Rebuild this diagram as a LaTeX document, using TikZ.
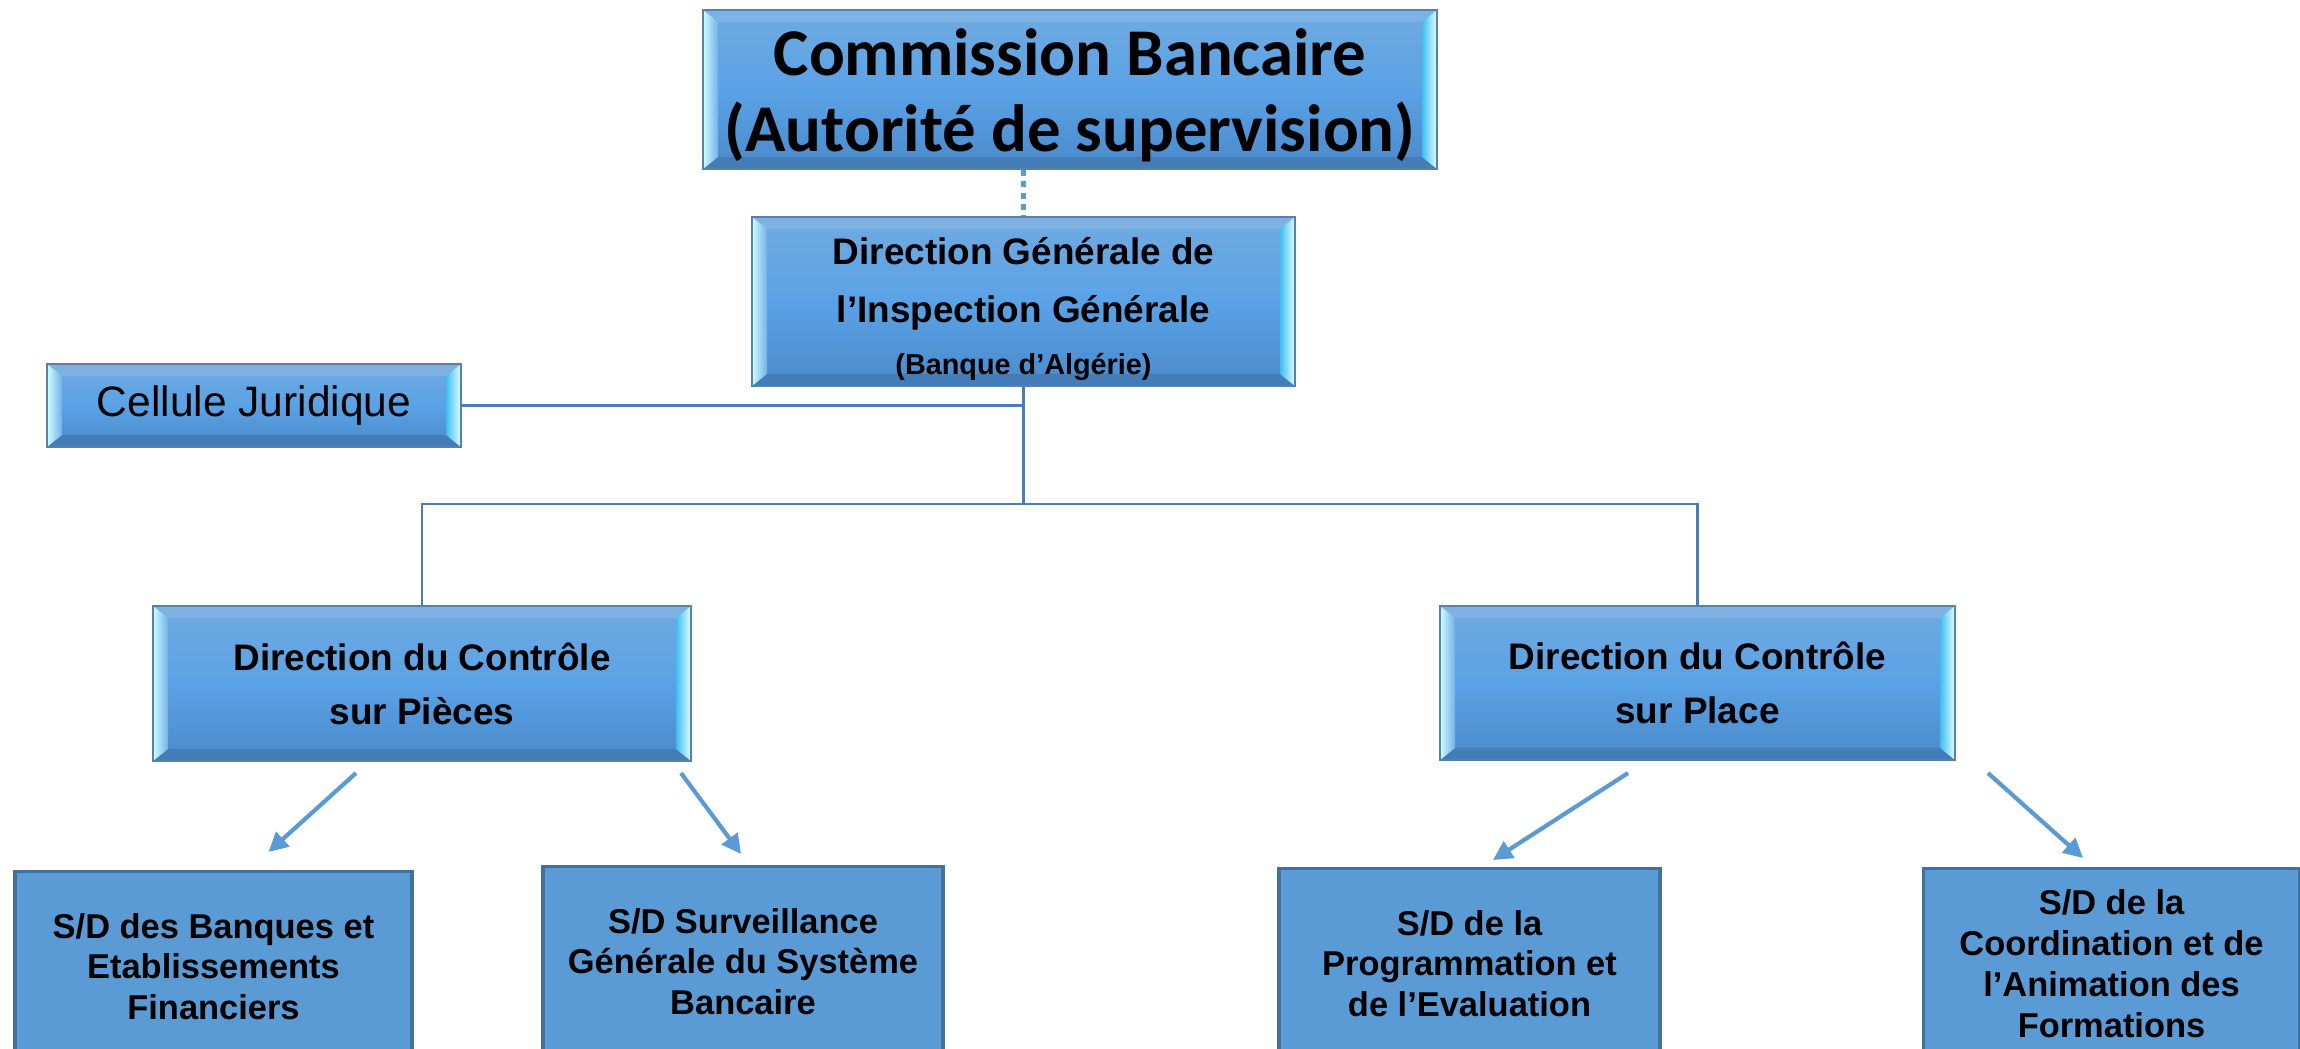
\documentclass[tikz,border=0pt]{standalone}
\usepackage{fontspec}
\usepackage{tikz}
\usepackage{xcolor}
\usetikzlibrary{shapes,arrows.meta,positioning,calc}
\setmainfont{Liberation Sans}
\newfontfamily\calfont{Carlito}

\definecolor{facetop}{HTML}{70AAE0}
\definecolor{facemid}{HTML}{5AA2E6}
\definecolor{facebot}{HTML}{4A8ACB}
\definecolor{bevline}{HTML}{5B80A8}
\definecolor{linec}{HTML}{4A7DB5}
\definecolor{sdfill}{HTML}{5B9BD5}
\definecolor{sdline}{HTML}{41719C}

\tikzset{
    bevbox/.style={draw=bevline, line width=0.6pt, top color=facetop, bottom color=facebot, middle color=facemid,
        inner sep=0pt, align=center,
        path picture={
            \path (path picture bounding box.north west) coordinate (pnw)
                  (path picture bounding box.south east) coordinate (pse);
            \fill[facetop!90!white] (pnw) -- (pnw -| pse) -- ($(pnw -| pse)+(-0.15,-0.12)$) -- ($(pnw)+(0.15,-0.12)$) -- cycle;
            \fill[facebot!90!black] (pse) -- (pse -| pnw) -- ($(pse -| pnw)+(0.15,0.12)$) -- ($(pse)+(-0.15,0.12)$) -- cycle;
            \shade[left color=cyan!20!white, right color=facemid!85!white] (pnw) -- (pse -| pnw) -- ($(pse -| pnw)+(0.15,0.12)$) -- ($(pnw)+(0.15,-0.12)$) -- cycle;
            \shade[left color=facemid!70!cyan, right color=cyan!12!white] (pnw -| pse) -- (pse) -- ($(pse)+(-0.15,0.12)$) -- ($(pnw -| pse)+(-0.15,-0.12)$) -- cycle;
        }},
    sdbox/.style={draw=sdline, fill=sdfill, line width=0.9pt, minimum height=1.9cm, anchor=north, inner sep=0pt,
        align=center, font=\bfseries\fontsize{9.8}{11.6}\selectfont},
    link/.style={draw=linec, line width=0.8pt},
    arr/.style={draw=sdfill, line width=1.2pt, -{Triangle[length=5.5pt,width=5.5pt]}}
}

\begin{document}
\begin{tikzpicture}
    \useasboundingbox (0,0) rectangle (23,-10.49);
    \clip (0,0) rectangle (23,-10.49);

    % haut
    \node[bevbox, minimum width=7.34cm, minimum height=1.59cm, font=\calfont\bfseries\fontsize{19}{21.6}\selectfont] (cb) at (10.70,-0.895)
        {\rule{0pt}{16.4pt}Commission Bancaire\\(Autorité de supervision)};
    \node[bevbox, minimum width=5.43cm, minimum height=1.69cm, font=\bfseries\fontsize{10.5}{16.7}\selectfont] (dgi) at (10.235,-3.015)
        {\rule{0pt}{11.8pt}Direction Générale de\\l’Inspection Générale\\[-2.1pt]{\fontsize{8.2}{10}\selectfont (Banque d’Algérie)}};
    \node[bevbox, minimum width=4.14cm, minimum height=0.83cm, font=\fontsize{12.1}{14}\selectfont] (cell) at (2.54,-4.055)
        {Cellule Juridique};

    % directions
    \node[bevbox, minimum width=5.38cm, minimum height=1.55cm, font=\bfseries\fontsize{10.5}{15.4}\selectfont] (dcp) at (4.22,-6.835)
        {Direction du Contrôle\\sur Pièces};
    \node[bevbox, minimum width=5.15cm, minimum height=1.54cm, font=\bfseries\fontsize{10.5}{15.4}\selectfont] (dcpl) at (16.975,-6.83)
        {Direction du Contrôle\\sur Place};

    % sous-directions
    \node[sdbox, minimum width=3.97cm] (sdb) at (2.135,-8.70) {S/D des Banques et\\Etablissements\\Financiers};
    \node[sdbox, minimum width=4.0cm] (sds) at (7.43,-8.65) {S/D Surveillance\\Générale du Système\\Bancaire};
    \node[sdbox, minimum width=3.81cm] (sdp) at (14.695,-8.67) {S/D de la\\Programmation et\\de l’Evaluation};
    \node[sdbox, minimum width=3.76cm] (sdc) at (21.115,-8.67) {S/D de la\\Coordination et de\\l’Animation des\\Formations};

    % liaisons
    \coordinate (jn) at ($(dgi.south)+(0,-1.17)$);
    \draw[sdfill, line width=1.7pt, dash pattern=on 1.7pt off 1.5pt] (cb.south -| dgi) -- (dgi.north);
    \draw[link] (dgi.south) -- (jn);
    \draw[link] (cell.east) -- (cell.east -| jn);
    \draw[link] (dcp.north) |- (jn) -| (dcpl.north);

    \draw[arr] ($(dcp.south)+(-0.66,-0.11)$) -- ($(sdb.north)+(0.55,0.18)$);
    \draw[arr] ($(dcp.south)+(2.59,-0.11)$) -- ($(sds.north)+(-0.02,0.11)$);
    \draw[arr] ($(dcpl.south)+(-0.695,-0.12)$) -- ($(sdp.north)+(0.235,0.07)$);
    \draw[arr] ($(dcpl.south)+(2.905,-0.12)$) -- ($(sdc.north)+(-0.285,0.09)$);
\end{tikzpicture}
\end{document}
